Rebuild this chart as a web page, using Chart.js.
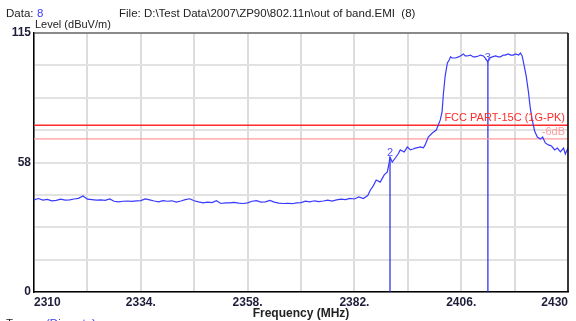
<!DOCTYPE html>
<html>
<head>
<meta charset="utf-8">
<script src="https://cdn.jsdelivr.net/npm/chart.js@4.4.1/dist/chart.umd.min.js"></script>
<style>
  html, body { margin: 0; padding: 0; background: #fff; }
  #wrap { width: 576px; height: 321px; position: relative; }
</style>
</head>
<body>
<div id="wrap"><canvas id="emiChart" width="576" height="321"></canvas></div>
<script>
// spectrum trace, MHz / dBuV/m
const freqMHz = [
  2310, 2311, 2312, 2313, 2314, 2315, 2316, 2317, 2318, 2319,
  2320, 2321, 2322, 2323, 2324, 2325, 2326, 2327, 2328, 2329,
  2330, 2331, 2332, 2333, 2334, 2335, 2336, 2337, 2338, 2339,
  2340, 2341, 2342, 2343, 2344, 2345, 2346, 2347, 2348, 2349,
  2350, 2351, 2352, 2353, 2354, 2355, 2356, 2357, 2358, 2359,
  2360, 2361, 2362, 2363, 2364, 2365, 2366, 2367, 2368, 2369,
  2370, 2371, 2372, 2373, 2374, 2375, 2376, 2377, 2378, 2379,
  2380, 2381, 2382, 2383, 2384, 2385, 2385.6, 2386.2, 2386.9, 2387.8,
  2388.7, 2389.4, 2389.8, 2390.0, 2390.5, 2391.2, 2391.9, 2392.3, 2393.2, 2393.9,
  2394.6, 2395.2, 2395.7, 2396.4, 2396.8, 2397.5, 2397.9, 2398.6, 2399.5, 2400.4,
  2401.3, 2401.7, 2402.0, 2402.4, 2402.9, 2403.3, 2403.6, 2404.0, 2404.7, 2405.4,
  2405.8, 2406.5, 2406.9, 2407.4, 2408.1, 2408.7, 2409.2, 2409.9, 2410.3, 2411.0,
  2411.4, 2412.0, 2412.3, 2413.0, 2413.7, 2414.4, 2414.8, 2415.5, 2415.9, 2416.6,
  2417.1, 2417.7, 2418.2, 2418.9, 2419.3, 2419.7, 2420.2, 2420.6, 2421.1, 2421.5,
  2422.0, 2422.5, 2423.1, 2423.8, 2424.3, 2424.9, 2425.6, 2426.3, 2427.0, 2427.6,
  2428.3, 2429.0, 2429.4, 2430
];
const levelDb = [
  40.9, 41.5, 40.8, 41.1, 40.5, 40.7, 41.2, 40.8, 40.9, 41.3,
  41.6, 42.6, 41.2, 41.0, 40.8, 40.9, 40.7, 41.3, 40.3, 40.0,
  40.3, 40.4, 40.2, 40.5, 40.6, 41.3, 40.9, 40.4, 40.0, 40.6,
  40.3, 40.5, 39.9, 40.4, 41.0, 41.4, 40.5, 40.0, 39.6, 39.9,
  39.7, 40.5, 39.3, 39.6, 39.6, 39.8, 39.5, 39.3, 39.6, 40.3,
  40.6, 39.9, 40.0, 40.7, 39.9, 39.5, 39.3, 39.4, 39.2, 39.6,
  39.7, 40.3, 40.0, 40.5, 40.1, 40.4, 40.8, 40.4, 40.9, 41.2,
  41.0, 41.6, 41.3, 42.2, 41.5, 42.8, 45.3, 47.0, 49.7, 48.8,
  52.0, 53.3, 57.3, 59.9, 57.7, 59.5, 61.5, 63.1, 62.2, 64.4,
  63.1, 63.5, 63.9, 64.2, 64.4, 64.0, 65.3, 68.8, 70.6, 71.9,
  76.4, 80.0, 88.0, 96.0, 101.7, 103.0, 104.4, 103.9, 103.9, 104.4,
  104.8, 105.7, 104.8, 104.8, 105.2, 104.4, 104.4, 104.8, 105.2, 104.8,
  103.9, 102.1, 103.9, 104.4, 104.8, 104.4, 104.4, 105.2, 105.2, 105.7,
  105.2, 105.2, 105.7, 105.2, 106.1, 104.8, 100.0, 96.0, 89.0, 82.0,
  76.0, 71.5, 68.8, 67.9, 68.8, 66.2, 65.3, 64.8, 63.1, 63.9,
  62.2, 63.9, 61.3, 63.9
];

// markers
const markerNames = ['2', '3'];
const markerFreqs = [2390.0, 2412.0];
const markerLevels = [59.9, 102.1];

// limit lines
const limitLabels = ['FCC PART-15C (1G-PK)', '-6dB'];
const limitLevels = [74, 68];
const limitColors = ['#ff2a2a', '#ff9c9c'];

// axes
const freqTicks = [2310, 2322, 2334, 2346, 2358, 2370, 2382, 2394, 2406, 2418, 2430];
const freqTickLabels = ['2310', '', '2334.', '', '2358.', '', '2382.', '', '2406.', '', '2430'];
const levelTicks = [0, 14.375, 28.75, 43.125, 57.5, 71.875, 86.25, 100.625, 115];
const levelTickLabels = ['0', '', '', '', '58', '', '', '', '115'];

const FONT = '"Liberation Sans", Arial, sans-serif';
const TRACE_BLUE = '#3a3aff';

const datasets = [{
  label: 'trace',
  data: freqMHz.map((f, i) => ({ x: f, y: levelDb[i] })),
  borderColor: TRACE_BLUE,
  borderWidth: 1.2,
  pointRadius: 0,
  showLine: true,
  tension: 0
}];

limitLevels.forEach((lv, i) => {
  datasets.push({
    label: limitLabels[i],
    data: [{ x: freqTicks[0], y: lv }, { x: freqTicks[freqTicks.length - 1], y: lv }],
    borderColor: limitColors[i],
    borderWidth: i === 0 ? 1.5 : 1.2,
    pointRadius: 0,
    showLine: true
  });
});

markerFreqs.forEach((f, i) => {
  datasets.push({
    label: 'marker ' + markerNames[i],
    data: [{ x: f, y: 0 }, { x: f, y: markerLevels[i] }],
    borderColor: '#2626e6',
    borderWidth: 1.2,
    pointRadius: 0,
    showLine: true
  });
});

const textPlugin = {
  id: 'emiText',
  afterDraw(chart) {
    const ctx = chart.ctx;
    const area = chart.chartArea;
    const xs = chart.scales.x;
    const ys = chart.scales.y;
    ctx.save();

    // frame: black right edge
    ctx.strokeStyle = '#000';
    ctx.lineWidth = 1.5;
    ctx.beginPath();
    ctx.moveTo(area.right, area.top);
    ctx.lineTo(area.right, area.bottom);
    ctx.stroke();

    ctx.textBaseline = 'middle';
    ctx.font = '11.5px ' + FONT;
    ctx.fillStyle = '#222';
    ctx.textAlign = 'left';
    ctx.fillText('Data:', 6, 14);
    ctx.fillStyle = '#3c3cff';
    ctx.fillText('8', 37, 14);
    ctx.fillStyle = '#222';
    ctx.fillText('File: D:\\Test Data\\2007\\ZP90\\802.11n\\out of band.EMI  (8)', 119, 14);
    ctx.font = '11px ' + FONT;
    ctx.fillText('Level (dBuV/m)', 35, 25);

    ctx.font = '11.5px ' + FONT;
    ctx.fillText('Trace:', 6, 324);
    ctx.fillStyle = '#3c3cff';
    ctx.fillText('(Discrete)', 46, 324);

    ctx.fillStyle = '#222';
    ctx.textAlign = 'center';
    ctx.font = 'bold 12px ' + FONT;
    ctx.fillText('Frequency (MHz)', (area.left + area.right) / 2, 314);

    // limit captions
    ctx.textAlign = 'right';
    ctx.font = '11px ' + FONT;
    limitLevels.forEach((lv, i) => {
      ctx.fillStyle = limitColors[i];
      ctx.fillText(limitLabels[i], area.right - 3, ys.getPixelForValue(lv) - 7);
    });

    // marker numbers
    ctx.textAlign = 'center';
    ctx.font = '11px ' + FONT;
    ctx.fillStyle = '#5050ff';
    markerFreqs.forEach((f, i) => {
      ctx.fillText(markerNames[i], xs.getPixelForValue(f), ys.getPixelForValue(markerLevels[i]) - 4);
    });
    ctx.restore();
  }
};

new Chart(document.getElementById('emiChart'), {
  type: 'scatter',
  data: { datasets: datasets },
  options: {
    responsive: false,
    animation: false,
    layout: { padding: { top: 33, right: 8, left: 0, bottom: 0 } },
    plugins: { legend: { display: false }, tooltip: { enabled: false } },
    scales: {
      x: {
        type: 'linear',
        min: 2310,
        max: 2430,
        afterBuildTicks: (scale) => { scale.ticks = freqTicks.map(v => ({ value: v })); },
        afterFit: (scale) => { scale.height = 29; },
        ticks: {
          autoSkip: false,
          maxRotation: 0,
          align: 'inner',
          padding: 3,
          color: '#1e1e3a',
          font: { family: FONT, size: 12, weight: 'bold' },
          callback: (v, i) => freqTickLabels[i]
        },
        grid: { color: '#dcdcdc', lineWidth: 2, drawTicks: false },
        border: { display: true, color: '#000', width: 1.5 }
      },
      y: {
        type: 'linear',
        min: 0,
        max: 115,
        afterBuildTicks: (scale) => { scale.ticks = levelTicks.map(v => ({ value: v })); },
        afterFit: (scale) => { scale.width = 34; },
        ticks: {
          autoSkip: false,
          padding: 3,
          color: '#1e1e3a',
          font: { family: FONT, size: 12, weight: 'bold' },
          callback: (v, i) => levelTickLabels[i]
        },
        grid: {
          color: (c) => c.index === levelTicks.length - 1 ? '#8a8a8a' : '#e2e2e2',
          lineWidth: 2,
          drawTicks: false
        },
        border: { display: true, color: '#000', width: 1.5 }
      }
    }
  },
  plugins: [textPlugin]
});
</script>
</body>
</html>
